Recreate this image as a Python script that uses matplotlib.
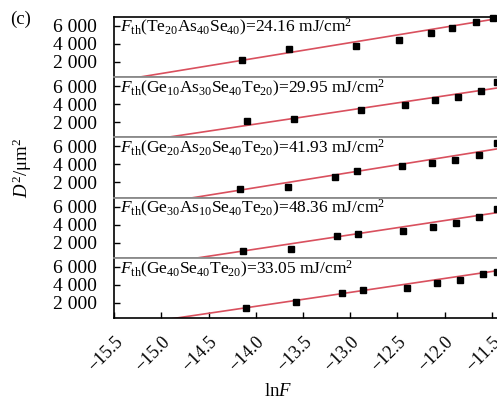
import numpy as np
import matplotlib.pyplot as plt

plt.rcParams['font.family'] = ['Liberation Serif', 'DejaVu Serif']
plt.rcParams['mathtext.fontset'] = 'custom'
plt.rcParams['mathtext.rm'] = 'Liberation Serif'
plt.rcParams['mathtext.it'] = 'Liberation Serif:italic'

labels = [r"$F_{\rm th}$(Te$_{20}$As$_{40}$Se$_{40}$)=24.16 mJ/cm$^2$",
          r"$F_{\rm th}$(Ge$_{10}$As$_{30}$Se$_{40}$Te$_{20}$)=29.95 mJ/cm$^2$",
          r"$F_{\rm th}$(Ge$_{20}$As$_{20}$Se$_{40}$Te$_{20}$)=41.93 mJ/cm$^2$",
          r"$F_{\rm th}$(Ge$_{30}$As$_{10}$Se$_{40}$Te$_{20}$)=48.36 mJ/cm$^2$",
          r"$F_{\rm th}$(Ge$_{40}$Se$_{40}$Te$_{20}$)=33.05 mJ/cm$^2$"]

lnF_1 = [-14.15, -13.65, -12.94, -12.48, -12.15, -11.92, -11.67, -11.49]
D2_1 = [2220, 3440, 3780, 4440, 5220, 5780, 6440, 6890]
lnF_2 = [-14.09, -13.59, -12.89, -12.42, -12.10, -11.86, -11.62, -11.45]
D2_2 = [2080, 2340, 3390, 3870, 4400, 4800, 5440, 6500]
lnF_3 = [-14.17, -13.66, -13.16, -12.93, -12.45, -12.13, -11.89, -11.64, -11.45]
D2_3 = [1270, 1500, 2620, 3210, 3850, 4110, 4490, 5080, 6350]
lnF_4 = [-14.14, -13.63, -13.14, -12.92, -12.44, -12.12, -11.88, -11.64, -11.45]
D2_4 = [1050, 1330, 2710, 2980, 3270, 3720, 4210, 4880, 5780]
lnF_5 = [-14.10, -13.57, -13.09, -12.87, -12.40, -12.08, -11.84, -11.60, -11.45]
D2_5 = [1410, 2160, 3120, 3410, 3690, 4180, 4550, 5240, 5430]

# linear fits D^2 = slope * (lnF - x0)
fit_x0 = [-15.40, -15.13, -14.84, -14.81, -15.05]
fit_slope = [1715, 1569, 1684, 1586, 1549]

ytick_vals = [2000, 4000, 6000]
ytick_labels = ['2 000', '4 000', '6 000']
xtick_vals = [-15.5, -15.0, -14.5, -14.0, -13.5, -13.0, -12.5, -12.0, -11.5]

xs = [lnF_1, lnF_2, lnF_3, lnF_4, lnF_5]
ys = [D2_1, D2_2, D2_3, D2_4, D2_5]

xlim = (-15.5, -11.447)
ylim = (300, 7000)

fig = plt.figure(figsize=(4.97, 4.07), dpi=100)
axs = fig.subplots(5, 1, sharex=True, gridspec_kw=dict(hspace=0))
fig.subplots_adjust(left=0.2294, right=1.0, top=0.959, bottom=0.218)

for i, ax in enumerate(axs):
    xl = np.array(xlim)
    ax.plot(xl, fit_slope[i] * (xl - fit_x0[i]), color='#d9505e', lw=1.2, zorder=2)
    ax.plot(xs[i], ys[i], 's', color='black', ms=3.8, zorder=3, clip_on=False)
    ax.set_xlim(xlim)
    ax.set_ylim(ylim)
    ax.set_yticks(ytick_vals)
    ax.set_yticklabels(ytick_labels)
    ax.tick_params(axis='y', direction='in', length=4, width=1, labelsize=14, pad=12)
    ax.tick_params(axis='x', direction='in', length=4.5, width=1, labelsize=13, pad=11)
    ax.spines['right'].set_visible(False)
    ax.spines['left'].set_linewidth(1.2)
    if i > 0:
        ax.spines['top'].set_color('#8a8a8a')
        ax.spines['top'].set_linewidth(1.3)
    else:
        ax.spines['top'].set_linewidth(1.2)
    if i < 4:
        ax.spines['bottom'].set_color('#8a8a8a')
        ax.spines['bottom'].set_linewidth(1.3)
        ax.tick_params(axis='x', bottom=False)
    else:
        ax.spines['bottom'].set_linewidth(1.2)
    ax.text(0.016, 0.74, labels[i], transform=ax.transAxes, fontsize=12.5,
            ha='left', va='baseline')

axs[-1].set_xticks(xtick_vals)
for lab in axs[-1].get_xticklabels():
    lab.set_rotation(45)
    lab.set_rotation_mode('anchor')
    lab.set_ha('right')
    lab.set_va('top')

fig.text(278 / 497, 1 - 392 / 407, r'ln$F$', ha='center', va='center', fontsize=13.5)
fig.text(22 / 497, 1 - 168 / 407, r'$D^2$/μm$^2$', ha='center', va='center',
         rotation=90, fontsize=13.5)
fig.text(21 / 497, 1 - 19 / 407, '(c)', ha='center', va='center', fontsize=13.5)

fig.savefig('out.png', dpi=100)
